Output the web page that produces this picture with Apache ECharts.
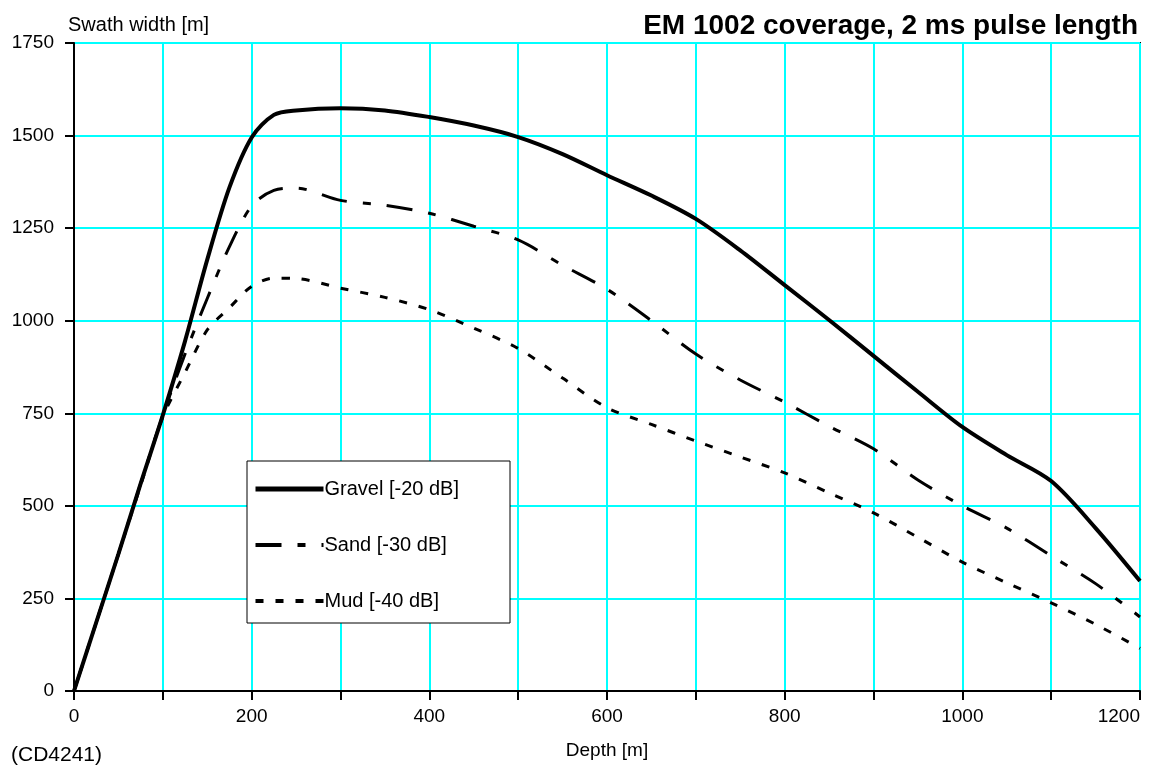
<!DOCTYPE html>
<html>
<head>
<meta charset="utf-8">
<script src="https://cdn.jsdelivr.net/npm/echarts@6/dist/echarts.min.js"></script>
<style>
  html, body { margin: 0; padding: 0; background: #fff; }
  #chart { width: 1152px; height: 769px; }
</style>
</head>
<body>
<div id="chart"></div>
<script>
// depth [m]
var depth = [0, 25, 50, 75, 100, 125, 150, 175, 200, 225, 250, 300, 350, 400, 450, 500,
             550, 600, 650, 700, 750, 800, 850, 900, 950, 1000, 1050, 1100, 1150, 1200];
// swath width [m]
var gravel = [0, 185, 370, 560, 745, 945, 1165, 1360, 1495, 1556, 1568, 1574, 1568, 1550, 1527, 1496,
              1450, 1393, 1338, 1275, 1190, 1096, 1002, 905, 808, 713, 637, 567, 440, 297];
var sand = [0, 185, 370, 560, 745, 910, 1060, 1200, 1310, 1352, 1358, 1325, 1312, 1290, 1255, 1218,
            1150, 1085, 1000, 910, 840, 780, 715, 654, 570, 500, 440, 365, 290, 200];
var mud = [0, 185, 370, 555, 740, 860, 975, 1035, 1093, 1115, 1114, 1088, 1063, 1030, 980, 925,
           845, 765, 720, 675, 632, 589, 535, 481, 415, 348, 292, 238, 180, 115];
var seriesNames = ['Gravel [-20 dB]', 'Sand [-30 dB]', 'Mud [-40 dB]'];

function pairs(ys) {
    return depth.map(function (d, i) { return [d, ys[i]]; });
}

var chart = echarts.init(document.getElementById('chart'));
var font = 'Liberation Sans, Arial, Helvetica, sans-serif';

var option = {
    animation: false,
    backgroundColor: '#fff',
    textStyle: { fontFamily: font },
    title: [{
        text: 'EM 1002 coverage, 2 ms pulse length',
        right: 9,
        top: 7,
        textStyle: { fontSize: 28, fontWeight: 'bold', color: '#000', fontFamily: font }
    }, {
        text: 'Swath width [m]',
        left: 63,
        top: 10,
        textStyle: { fontSize: 20, fontWeight: 'normal', color: '#000', fontFamily: font }
    }, {
        text: '(CD4241)',
        left: 6,
        top: 740,
        textStyle: { fontSize: 21, fontWeight: 'normal', color: '#000', fontFamily: font }
    }],
    grid: {
        left: 74,
        right: 12,
        top: 43,
        bottom: 78,
        containLabel: false,
        outerBoundsMode: 'none',
        show: true,
        borderColor: '#000',
        borderWidth: 2,
        backgroundColor: 'transparent'
    },
    legend: {
        orient: 'vertical',
        left: 247,
        top: 461,
        data: [
            { name: seriesNames[0], lineStyle: { width: 5 } },
            { name: seriesNames[1], lineStyle: { width: 4 } },
            { name: seriesNames[2], lineStyle: { width: 4 } }
        ],
        itemWidth: 68,
        itemHeight: 14,
        itemGap: 36,
        padding: [18, 51, 12, 6],
        backgroundColor: '#fff',
        borderColor: '#000',
        borderWidth: 1,
        itemStyle: { opacity: 0 },
        textStyle: { fontSize: 20, color: '#000', fontFamily: font, padding: [0, 0, 0, -4] }
    },
    xAxis: {
        type: 'value',
        min: 0,
        max: 1200,
        interval: 100,
        name: 'Depth [m]',
        nameLocation: 'middle',
        nameGap: 50,
        nameTextStyle: { fontSize: 19, color: '#000' },
        axisLine: { lineStyle: { color: '#000', width: 2 } },
        axisTick: { show: true, length: 9, lineStyle: { color: '#000', width: 2 } },
        axisLabel: {
            color: '#000',
            fontSize: 19,
            margin: 16,
            alignMaxLabel: 'right',
            formatter: function (v) { return v % 200 === 0 ? String(v) : ''; }
        },
        splitLine: { show: true, lineStyle: { color: '#00ffff', width: 2 } }
    },
    yAxis: {
        type: 'value',
        min: 0,
        max: 1750,
        interval: 250,
        axisLine: { show: true, lineStyle: { color: '#000', width: 2 } },
        axisTick: { show: true, length: 9, lineStyle: { color: '#000', width: 2 } },
        axisLabel: {
            color: '#000',
            fontSize: 19,
            margin: 20,
            formatter: function (v) { return String(v); }
        },
        splitLine: { show: true, lineStyle: { color: '#00ffff', width: 2 } }
    },
    series: [{
        type: 'line',
        name: seriesNames[0],
        data: pairs(gravel),
        smooth: 0.3,
        symbol: 'none',
        z: 5,
        lineStyle: { color: '#000', width: 4, type: 'solid' },
        itemStyle: { color: '#000' }
    }, {
        type: 'line',
        name: seriesNames[1],
        data: pairs(sand),
        smooth: 0.3,
        symbol: 'none',
        z: 4,
        lineStyle: { color: '#000', width: 3, type: [26, 16, 8, 16] },
        itemStyle: { color: '#000' }
    }, {
        type: 'line',
        name: seriesNames[2],
        data: pairs(mud),
        smooth: 0.3,
        symbol: 'none',
        z: 3,
        lineStyle: { color: '#000', width: 3, type: [8, 12] },
        itemStyle: { color: '#000' }
    }]
};

chart.setOption(option);
</script>
</body>
</html>
